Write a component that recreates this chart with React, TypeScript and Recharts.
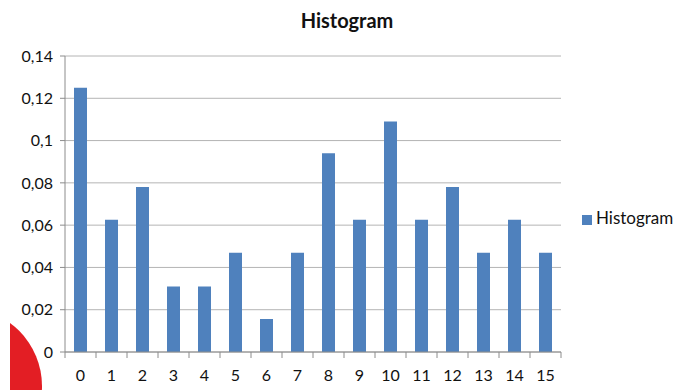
import React from 'react';
import { BarChart, Bar, XAxis, YAxis, CartesianGrid, Legend } from 'recharts';

const categories = ['0', '1', '2', '3', '4', '5', '6', '7', '8', '9', '10', '11', '12', '13', '14', '15'];
const histogramValues = [
  0.125, 0.0625, 0.078, 0.031, 0.031, 0.047, 0.0156, 0.047,
  0.094, 0.0625, 0.109, 0.0625, 0.078, 0.047, 0.0625, 0.047,
];
const yTicks = [0, 0.02, 0.04, 0.06, 0.08, 0.1, 0.12, 0.14];

const data = categories.map((name, i) => ({ name, Histogram: histogramValues[i] }));

const FONT = 'Lato, "Noto Sans", sans-serif';
const AXIS = '#8c8c8c';
const PLOT_WIDTH = 677 - 65 - 116;
const HALF_BAND = PLOT_WIDTH / categories.length / 2;

// category label plus Excel-style tick marks between categories
const EdgeTick = (props: any) => {
  const { x, y, payload, index } = props;
  const top = y - 18;
  const isLast = index === categories.length - 1;
  return (
    <g>
      <line x1={x - HALF_BAND} x2={x - HALF_BAND} y1={top} y2={top + 6} stroke={AXIS} />
      {isLast && <line x1={x + HALF_BAND} x2={x + HALF_BAND} y1={top} y2={top + 6} stroke={AXIS} />}
      <text x={x} y={y} dy="0.71em" textAnchor="middle" fill="#111" fontSize={16} fontFamily={FONT}>
        {payload.value}
      </text>
    </g>
  );
};

const App: React.FC = () => {
  return (
    <div
      style={{
        position: 'absolute',
        left: 0,
        top: 0,
        width: 677,
        height: 390,
        background: '#fff',
        overflow: 'hidden',
        fontFamily: FONT,
      }}
    >
      <div
        style={{
          position: 'absolute',
          left: 0,
          top: 8,
          width: 694,
          textAlign: 'center',
          fontSize: 20,
          fontWeight: 700,
          color: '#111',
        }}
      >
        Histogram
      </div>

      <BarChart width={677} height={390} data={data} margin={{ top: 56, right: 21, bottom: 8, left: 8 }}>
        <CartesianGrid vertical={false} stroke="#b4b4b4" />
        <XAxis
          dataKey="name"
          height={30}
          tickLine={false}
          axisLine={{ stroke: AXIS }}
          tickMargin={12}
          tick={<EdgeTick />}
          interval={0}
        />
        <YAxis
          domain={[0, 0.14]}
          ticks={yTicks}
          width={57}
          tickSize={5}
          tickMargin={7}
          axisLine={{ stroke: AXIS }}
          tickLine={{ stroke: AXIS }}
          tick={{ fill: '#111', fontSize: 16, fontFamily: FONT }}
          tickFormatter={(v: number) => String(v).replace('.', ',')}
        />
        <Legend
          layout="horizontal"
          align="right"
          verticalAlign="middle"
          iconType="square"
          iconSize={10}
          wrapperStyle={{ left: 582, top: 207, width: 95, right: 'auto', textAlign: 'left', fontSize: 17, fontFamily: FONT }}
          formatter={(v: string) => <span style={{ color: '#111' }}>{v}</span>}
        />
        <Bar dataKey="Histogram" fill="#4f81bd" barSize={13} isAnimationActive={false} />
      </BarChart>

      <div style={{ position: 'absolute', left: 10, top: 300, width: 80, height: 90, overflow: 'hidden' }}>
        <div
          style={{
            position: 'absolute',
            left: -46 - 78,
            top: 86 - 78,
            width: 156,
            height: 156,
            borderRadius: '50%',
            background: '#e31e24',
          }}
        />
      </div>
    </div>
  );
};

export default App;
